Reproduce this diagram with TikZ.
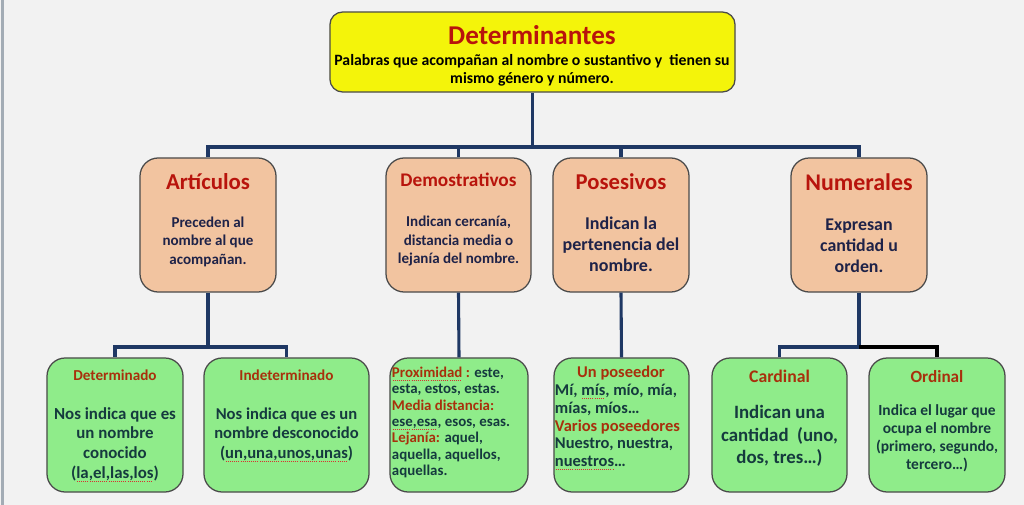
\documentclass[tikz,border=0pt]{standalone}
\usepackage{fontspec}
\setmainfont{Carlito}
\definecolor{fondo}{HTML}{F2F2F2}
\definecolor{marco}{HTML}{A3ACB5}
\definecolor{amarillo}{HTML}{F4F40A}
\definecolor{durazno}{HTML}{F2C4A0}
\definecolor{verde}{HTML}{8FEC8A}
\definecolor{borde}{HTML}{4A4A4A}
\definecolor{linea}{HTML}{1F3864}
\definecolor{rojo}{HTML}{B8140C}
\definecolor{rojoosc}{HTML}{A8300C}
\definecolor{tinta}{HTML}{1E2248}
\definecolor{tintav}{HTML}{153A3E}
\definecolor{ondas}{HTML}{D83030}
\newcommand{\tam}[2]{\fontsize{#1}{#2}\selectfont}
\newsavebox{\cajaonda}
\newcommand{\subraya}[1]{\leavevmode\sbox{\cajaonda}{#1}%
  \rlap{\lower2.3pt\hbox to \wd\cajaonda{\color{ondas}\leaders\hbox to 1.5pt{\hss\vrule width 0.7pt height 0.55pt\hss}\hfill}}\usebox{\cajaonda}}
\begin{document}
\begin{tikzpicture}[x=0.025cm,y=-0.025cm,
    caja/.style={draw=borde,line width=0.9pt,rounded corners=13pt,inner sep=0pt},
    naranja/.style={caja,fill=durazno,minimum width=3.4cm,minimum height=3.35cm},
    verdecaja/.style={caja,fill=verde,minimum width=3.4cm,minimum height=3.35cm},
    texto/.style={align=center,inner sep=0pt},
    conector/.style={draw=linea,line width=2.2pt}]
  %fondo
  \useasboundingbox (0,0) rectangle (1024,505);
  \fill[fondo] (0,0) rectangle (1024,505);
  \draw[marco,line width=2.1pt] (2.5,0) -- (2.5,505);

  %cajas
  \node[caja,fill=amarillo,rounded corners=9pt,minimum width=10.125cm,minimum height=2cm] (det) at (532.5,52) {};
  \node[naranja] (art) at (208,225) {};
  \node[naranja,minimum width=3.625cm] (demo) at (458.5,225) {};
  \node[naranja] (pos) at (621,225) {};
  \node[naranja] (num) at (859,225) {};
  \node[verdecaja] (deter) at (115,425) {};
  \node[verdecaja,minimum width=4.125cm] (indet) at (286.5,425) {};
  \node[verdecaja,minimum width=3.45cm] (demoej) at (459,425) {};
  \node[verdecaja,minimum width=3.375cm] (posej) at (621.5,425) {};
  \node[verdecaja,minimum width=3.375cm] (card) at (779.5,425) {};
  \node[verdecaja] (ord) at (937,425) {};

  %textos
  \node[texto,text=black,font=\bfseries\tam{11.2}{12.8}] (detT) at (532,56) {\tam{19.3}{22}\textcolor{rojo}{Determinantes}\\[2pt]
    Palabras que acompañan al nombre o sustantivo y\ \ tienen su\\ mismo género y número.};
  \node[texto,text=tinta,font=\bfseries\tam{10.7}{13.2}] (artT) at (208,220) {\tam{16.2}{18}\textcolor{rojo}{Artículos}\\[13.5pt]
    Preceden al\\ nombre al que\\ acompañan.};
  \node[texto,text=tinta,font=\bfseries\tam{10.7}{13.2}] (demoT) at (458.5,219.5) {\tam{13.7}{16}\textcolor{rojo}{Demostrativos}\\[15.7pt]
    Indican cercanía,\\ distancia media o\\ lejanía del nombre.};
  \node[texto,text=tinta,font=\bfseries\tam{12.8}{15}] (posT) at (621,222.5) {\tam{16.1}{18}\textcolor{rojo}{Posesivos}\\[13.1pt]
    Indican la\\ pertenencia del\\ nombre.};
  \node[texto,text=tinta,font=\bfseries\tam{12.7}{15}] (numT) at (859,223) {\tam{17}{19}\textcolor{rojo}{Numerales}\\[13.5pt]
    Expresan\\ cantidad u\\ orden.};
  \node[texto,text=tintav,font=\bfseries\tam{12}{14.2}] (deterT) at (115,426) {\tam{10.8}{12}\textcolor{rojoosc}{Determinado}\\[13.2pt]
    Nos indica que es\\ un nombre\\ conocido\\ (\subraya{la,el,las,los})};
  \node[texto,text=tintav,font=\bfseries\tam{11.8}{14.2}] (indetT) at (286.5,416) {\tam{10.8}{12}\textcolor{rojoosc}{Indeterminado}\\[13.2pt]
    Nos indica que es un\\ nombre desconocido\\ (\subraya{un,una,unos,unas})};
  \node[texto,text=tintav,font=\bfseries\tam{10.6}{11.6},align=flush left,text width=3.35cm] (demoejT) at (459,422.5) {%
    \textcolor{rojoosc}{\subraya{Proximidad} :} este,\\ esta, estos, estas.\\
    \textcolor{rojoosc}{Media distancia:}\\ \subraya{ese,esa}, esos, esas.\\
    \textcolor{rojoosc}{Lejanía:} aquel,\\ aquella, aquellos,\\ aquellas.};
  \node[texto,text=tintav,font=\bfseries\tam{11.7}{12.6},align=flush left,text width=3.3cm] (posejT) at (621,418) {%
    \makebox[\hsize]{\textcolor{rojoosc}{Un poseedor}}\\ Mí, \subraya{mís}, mío, mía,\\ mías, míos…\\
    \textcolor{rojoosc}{Varios poseedores}\\ Nuestro, nuestra,\\ \subraya{nuestros}…};
  \node[texto,text=tintav,font=\bfseries\tam{13.4}{16}] (cardT) at (779.5,418) {\tam{12.6}{14}\textcolor{rojoosc}{Cardinal}\\[10pt]
    Indican una\\ cantidad\ \ (uno,\\ dos, tres…)};
  \node[texto,text=tintav,font=\bfseries\tam{11}{12.8}] (ordT) at (937,421.5) {\tam{12.2}{14}\textcolor{rojoosc}{Ordinal}\\[10.5pt]
    Indica el lugar que\\ ocupa el nombre\\ (primero, segundo,\\ tercero…)};

  %conexiones
  \coordinate (bus) at (532.5,147);
  \draw[conector] (det.south) -- (bus);
  \foreach \n in {art,demo,pos,num}
    \draw[conector] (\n.north) |- (bus);
  \coordinate (busA) at (208,347);
  \draw[conector] (art.south) -- (busA);
  \draw[conector] (deter.north) |- (busA);
  \draw[conector] (indet.north) |- (busA);
  \draw[conector] (demo.south) -- (demoej.north);
  \draw[conector] (pos.south) -- (posej.north);
  \coordinate (busN) at (859,347);
  \draw[conector] (num.south) -- (busN);
  \draw[conector] (card.north) |- (busN);
  \draw[conector,draw=black] (ord.north) |- (busN);
\end{tikzpicture}
\end{document}
